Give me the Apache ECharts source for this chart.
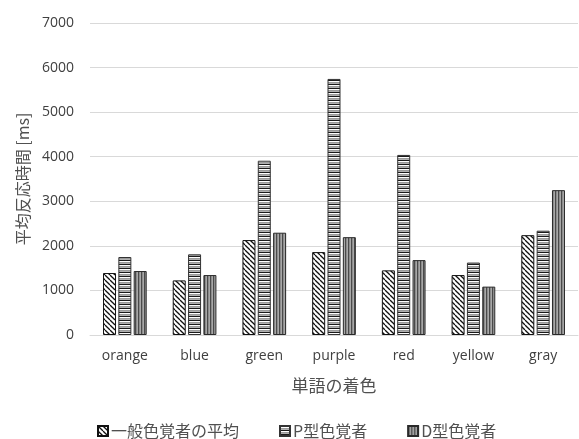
<!DOCTYPE html>
<html><head><meta charset="utf-8">
<script src="https://cdn.jsdelivr.net/npm/echarts@6/dist/echarts.min.js"></script>
<style>html,body{margin:0;padding:0;background:#fff}#c{width:579px;height:439px}</style>
</head><body><div id="c"></div>
<script>
const categories = ['orange','blue','green','purple','red','yellow','gray'];
const seriesNames = ['一般色覚者の平均','P型色覚者','D型色覚者'];
const generalAvg = [1390,1225,2130,1860,1450,1345,2240];
const pType = [1750,1810,3910,5745,4040,1625,2340];
const dType = [1435,1345,2295,2195,1680,1085,3250];
const yTicks = [0,1000,2000,3000,4000,5000,6000,7000];

function diagPattern(){
  const s=5, c=document.createElement('canvas'); c.width=s; c.height=s;
  const g=c.getContext('2d'); g.fillStyle='#fff'; g.fillRect(0,0,s,s);
  g.strokeStyle='#111'; g.lineWidth=1.3;
  for(const o of [-s,0,s]){ g.beginPath(); g.moveTo(o,0); g.lineTo(o+s,s); g.stroke(); }
  return {image:c, repeat:'repeat'};
}
function horizPattern(){
  const c=document.createElement('canvas'); c.width=4; c.height=4;
  const g=c.getContext('2d');
  const rows=['#1a1a1a','#ffffff','#9a9a9a','#b0b0b0'];
  rows.forEach((col,i)=>{g.fillStyle=col; g.fillRect(0,i,4,1);});
  return {image:c, repeat:'repeat'};
}
function vertPattern(){
  const c=document.createElement('canvas'); c.width=3; c.height=3;
  const g=c.getContext('2d');
  const cols=['#4a4a4a','#8c8c8c','#a8a8a8'];
  cols.forEach((col,i)=>{g.fillStyle=col; g.fillRect(i,0,1,3);});
  return {image:c, repeat:'repeat'};
}
const fills=[diagPattern(),horizPattern(),vertPattern()];
const borders=['#111','#333','#2a2a2a'];
const dataSets=[generalAvg,pType,dType];

const chart=echarts.init(document.getElementById('c'),null,{renderer:'canvas'});
const latin='"Open Sans","Noto Sans CJK JP",sans-serif';
const cjk='"Noto Sans CJK JP","Open Sans",sans-serif';
chart.setOption({
  animation:false,
  grid:{left:90,right:1,top:23,bottom:104},
  legend:{
    data:seriesNames, left:92, top:418, icon:'rect', itemWidth:10, itemHeight:10,
    itemGap:40, textStyle:{fontFamily:cjk,fontSize:16,color:'#505050',padding:[0,0,0,-2]}
  },
  xAxis:{
    type:'category', data:categories,
    name:'単語の着色', nameLocation:'middle', nameGap:42,
    nameTextStyle:{fontFamily:cjk,fontSize:17,color:'#505050'},
    axisLine:{lineStyle:{color:'#d9d9d9',width:1}}, axisTick:{show:false},
    axisLabel:{fontFamily:latin,fontSize:14,color:'#404040',margin:14}
  },
  yAxis:{
    type:'value', min:0, max:7000, interval:1000,
    name:'平均反応時間 [ms]', nameLocation:'middle', nameGap:56,
    nameTextStyle:{fontFamily:cjk,fontSize:16,color:'#505050'},
    axisLine:{show:false}, axisTick:{show:false},
    splitLine:{lineStyle:{color:'#d9d9d9',width:1}},
    axisLabel:{fontFamily:latin,fontSize:14,color:'#404040',margin:16,
      formatter:v=>yTicks.includes(v)?String(v):''}
  },
  series:dataSets.map((d,i)=>({
    name:seriesNames[i], type:'bar', data:d,
    barWidth:13, barGap:'18%',
    itemStyle:{color:fills[i], borderColor:borders[i], borderWidth:1}
  }))
});
</script></body></html>
